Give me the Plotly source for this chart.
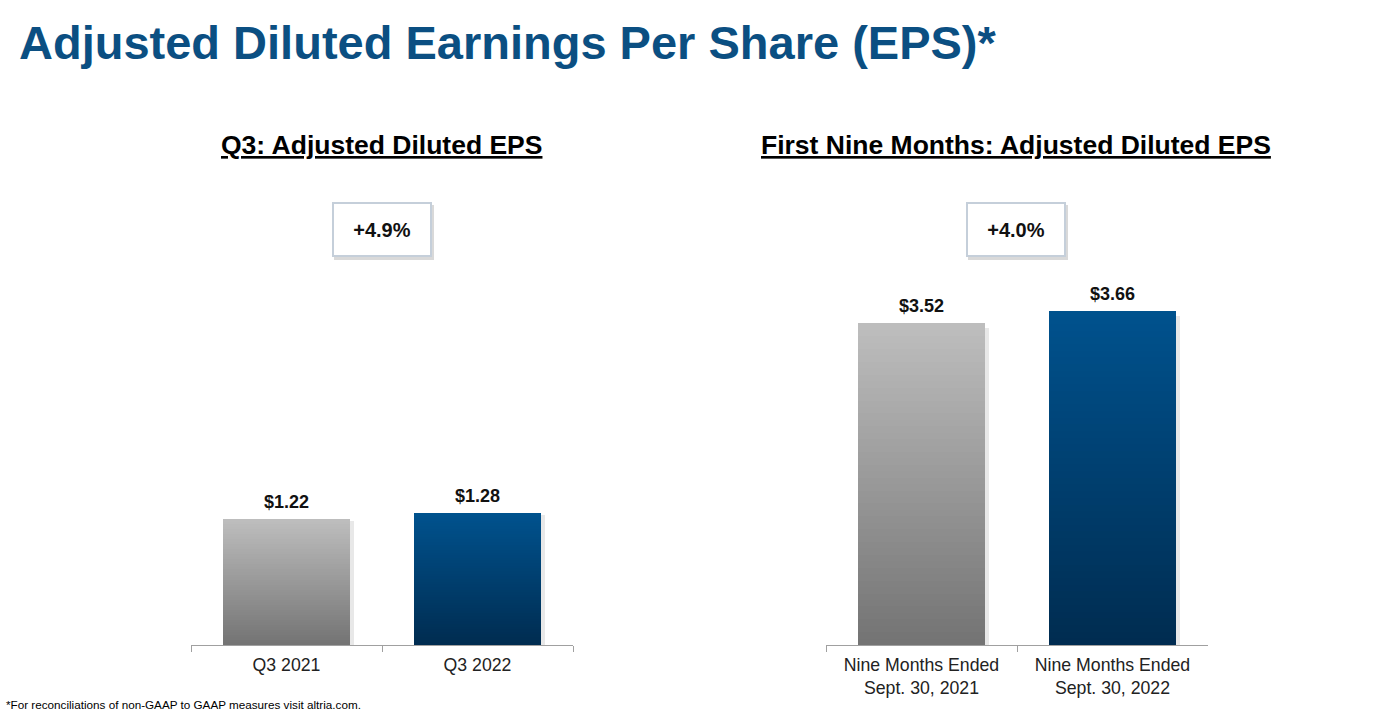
import plotly.graph_objects as go

# data
q3_labels = ["Q3 2021", "Q3 2022"]
q3_eps = [1.22, 1.28]
q3_change = "+4.9%"

nm_labels = ["Nine Months Ended<br>Sept. 30, 2021", "Nine Months Ended<br>Sept. 30, 2022"]
nm_eps = [3.52, 3.66]
nm_change = "+4.0%"

W, H = 1390, 715
PLOT_TOP, PLOT_BOT = 250, 645
BAR_W = 0.665
N_STEPS = 50

GRAY_TOP, GRAY_BOT = (190, 190, 190), (115, 115, 115)
BLUE_TOP, BLUE_BOT = (0, 82, 142), (0, 44, 80)
FONT = "Arial, Liberation Sans"


def mix(c_top, c_bot, t):
    # t = 0 at the bottom, 1 at the top
    r, g, b = (round(c_bot[i] + (c_top[i] - c_bot[i]) * t) for i in range(3))
    return f"rgb({r},{g},{b})"


def px_y(y):
    # pixel row -> paper y
    return (PLOT_BOT - y) / (PLOT_BOT - PLOT_TOP)


fig = go.Figure()


def add_bars(labels, values, xa, ya):
    # soft shadow on the right side
    fig.add_trace(go.Bar(
        x=labels, y=[v * 0.985 for v in values], width=BAR_W, offset=-BAR_W / 2 + 0.022,
        marker=dict(color="rgba(0,0,0,0.09)", line_width=0),
        xaxis=xa, yaxis=ya, hoverinfo="skip", showlegend=False))
    # vertical gradient: full bar in the light colour, shorter darker bars on top
    for k in range(N_STEPS - 1, -1, -1):
        t = (k + 0.5) / N_STEPS
        fig.add_trace(go.Bar(
            x=labels, y=[v * (k + 1) / N_STEPS for v in values], width=BAR_W,
            marker=dict(color=[mix(GRAY_TOP, GRAY_BOT, t), mix(BLUE_TOP, BLUE_BOT, t)], line_width=0),
            xaxis=xa, yaxis=ya, hoverinfo="skip", showlegend=False))
    # value labels above the bars
    for lab, v in zip(labels, values):
        fig.add_annotation(
            x=lab, y=v, xref=xa, yref=ya, text=f"<b>${v:.2f}</b>", showarrow=False,
            xanchor="center", yanchor="bottom", yshift=5,
            font=dict(family=FONT, size=18, color="#111111"))


add_bars(q3_labels, q3_eps, "x", "y")
add_bars(nm_labels, nm_eps, "x2", "y2")

axis_x = dict(showgrid=False, zeroline=False, showline=True, linecolor="#a0a0a0", linewidth=1,
              ticks="outside", tickson="boundaries", ticklen=6, tickcolor="#a0a0a0",
              ticklabelstandoff=4,
              tickfont=dict(family=FONT, size=17.7, color="#222222"),
              range=[-0.5, 1.5], fixedrange=True)
axis_y = dict(visible=False, showgrid=False, zeroline=False, fixedrange=True)

fig.update_layout(
    width=W, height=H,
    margin=dict(l=0, r=0, t=PLOT_TOP, b=H - PLOT_BOT),
    paper_bgcolor="white", plot_bgcolor="white",
    barmode="overlay", bargap=0,
    showlegend=False,
    font=dict(family=FONT),
    xaxis=dict(axis_x, domain=[191 / W, 573 / W], anchor="y"),
    yaxis=dict(axis_y, range=[0, 3.828], anchor="x"),
    xaxis2=dict(axis_x, domain=[826 / W, 1208 / W], anchor="y2"),
    yaxis2=dict(axis_y, range=[0, 4.322], anchor="x2"),
)

# main title
fig.add_annotation(
    text="<b>Adjusted Diluted Earnings Per Share (EPS)*</b>",
    xref="paper", yref="paper", x=17 / W, y=px_y(42), xanchor="left", yanchor="middle",
    showarrow=False, font=dict(family=FONT, size=47, color="#0B4F82"))

# panel titles
for cx, txt in [(382, "Q3: Adjusted Diluted EPS"), (1016, "First Nine Months: Adjusted Diluted EPS")]:
    fig.add_annotation(
        text=f"<b><u>{txt}</u></b>", xref="paper", yref="paper", x=cx / W, y=px_y(145),
        xanchor="center", yanchor="middle", showarrow=False,
        font=dict(family=FONT, size=26.5, color="#000000"))

# growth boxes
for cx, txt in [(382, q3_change), (1016, nm_change)]:
    fig.add_annotation(
        text="", xref="paper", yref="paper", x=(cx + 2) / W, y=px_y(232),
        xanchor="center", yanchor="middle", showarrow=False, width=98, height=53,
        bgcolor="#d9d9d9", borderwidth=0)
    fig.add_annotation(
        text=f"<b>{txt}</b>", xref="paper", yref="paper", x=cx / W, y=px_y(229.5),
        xanchor="center", yanchor="middle", showarrow=False, width=96, height=51,
        bgcolor="white", bordercolor="#c5cfda", borderwidth=2, borderpad=0,
        font=dict(family=FONT, size=20, color="#111111"))

# footnote
fig.add_annotation(
    text="*For reconciliations of non-GAAP to GAAP measures visit altria.com.",
    xref="paper", yref="paper", x=4 / W, y=px_y(704), xanchor="left", yanchor="middle",
    showarrow=False, font=dict(family=FONT, size=11.7, color="#000000"))

fig.write_html("out.html", config={"displayModeBar": False},
               post_script="document.body.style.margin='0';document.body.style.overflow='hidden';")
